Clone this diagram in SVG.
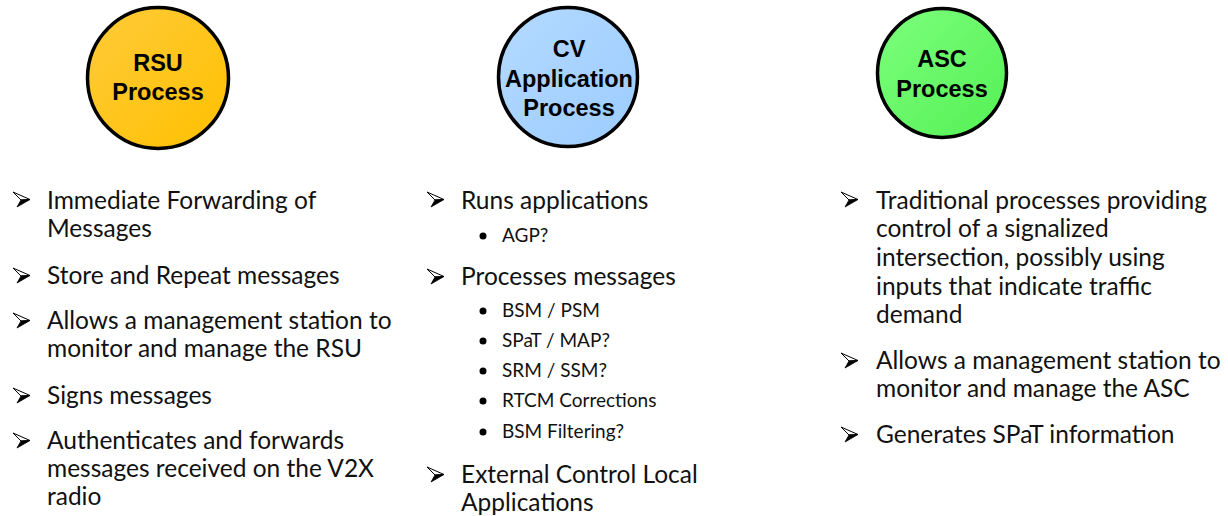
<svg xmlns="http://www.w3.org/2000/svg" xmlns:xlink="http://www.w3.org/1999/xlink" width="1228" height="516" viewBox="0 0 1228 516">
<style>
.circ{stroke:#000;stroke-width:3.5}
.ct{font-family:"Liberation Sans",Arial,sans-serif;font-weight:bold;font-size:23.5px;fill:#000;text-anchor:middle}
.b{font-family:Lato,"Open Sans",sans-serif;font-size:24.5px;fill:#111}
.s{font-family:Lato,"Open Sans",sans-serif;font-size:19px;fill:#111}
</style>
<defs>
<linearGradient id="gO" x1="0" y1="0" x2="1" y2="1">
<stop offset="0" stop-color="#FFCB3A"/><stop offset="1" stop-color="#FFC000"/>
</linearGradient>
<linearGradient id="gB" x1="0" y1="0" x2="1" y2="1">
<stop offset="0" stop-color="#B4DAFF"/><stop offset="1" stop-color="#9CCCFF"/>
</linearGradient>
<linearGradient id="gG" x1="0" y1="0" x2="1" y2="1">
<stop offset="0" stop-color="#7CFF7C"/><stop offset="1" stop-color="#55F055"/>
</linearGradient>
<g id="arr">
<polygon points="0,0 17,7.5 8,8" fill="#fff" stroke="#000" stroke-width="1" stroke-linejoin="miter"/>
<polygon points="8,8 17,7.5 4,15" fill="#000" stroke="#000" stroke-width="0.8"/>
</g>
<circle id="dot" r="3.5" fill="#000"/>
</defs>

<g id="rsu">
<circle class="circ" cx="158" cy="78" r="70.5" fill="url(#gO)"/>
<text class="ct" x="158" y="71">RSU</text>
<text class="ct" x="158" y="100">Process</text>
</g>

<g id="cv">
<circle class="circ" cx="568" cy="77" r="69.5" fill="url(#gB)"/>
<text class="ct" x="569" y="57">CV</text>
<text class="ct" x="569" y="87">Application</text>
<text class="ct" x="569" y="116">Process</text>
</g>

<g id="asc">
<circle class="circ" cx="942" cy="73" r="64.5" fill="url(#gG)"/>
<text class="ct" x="942" y="67">ASC</text>
<text class="ct" x="942" y="97">Process</text>
</g>

<g id="rsu-list">
<use xlink:href="#arr" x="13" y="192"/>
<text class="b" x="47" y="209">Immediate Forwarding of</text>
<text class="b" x="47" y="237">Messages</text>
<use xlink:href="#arr" x="13" y="268"/>
<text class="b" x="47" y="284">Store and Repeat messages</text>
<use xlink:href="#arr" x="13" y="313"/>
<text class="b" x="47" y="329">Allows a management station to</text>
<text class="b" x="47" y="357">monitor and manage the RSU</text>
<use xlink:href="#arr" x="13" y="388"/>
<text class="b" x="47" y="404">Signs messages</text>
<use xlink:href="#arr" x="13" y="433"/>
<text class="b" x="47" y="449">Authenticates and forwards</text>
<text class="b" x="47" y="477">messages received on the V2X</text>
<text class="b" x="47" y="505">radio</text>
</g>

<g id="cv-list">
<use xlink:href="#arr" x="427" y="192"/>
<text class="b" x="461" y="209">Runs applications</text>
<use xlink:href="#dot" x="483" y="236"/>
<text class="s" x="502" y="242">AGP?</text>
<use xlink:href="#arr" x="427" y="269"/>
<text class="b" x="461" y="285">Processes messages</text>
<use xlink:href="#dot" x="483" y="311"/>
<text class="s" x="502" y="317">BSM / PSM</text>
<use xlink:href="#dot" x="483" y="341"/>
<text class="s" x="502" y="347">SPaT / MAP?</text>
<use xlink:href="#dot" x="483" y="371"/>
<text class="s" x="502" y="377">SRM / SSM?</text>
<use xlink:href="#dot" x="483" y="401"/>
<text class="s" x="502" y="407">RTCM Corrections</text>
<use xlink:href="#dot" x="483" y="432"/>
<text class="s" x="502" y="438">BSM Filtering?</text>
<use xlink:href="#arr" x="427" y="467"/>
<text class="b" x="461" y="483">External Control Local</text>
<text class="b" x="461" y="511">Applications</text>
</g>

<g id="asc-list">
<use xlink:href="#arr" x="841" y="192"/>
<text class="b" x="876" y="209">Traditional processes providing</text>
<text class="b" x="876" y="237">control of a signalized</text>
<text class="b" x="876" y="266">intersection, possibly using</text>
<text class="b" x="876" y="295">inputs that indicate traffic</text>
<text class="b" x="876" y="323">demand</text>
<use xlink:href="#arr" x="841" y="353"/>
<text class="b" x="876" y="369">Allows a management station to</text>
<text class="b" x="876" y="397">monitor and manage the ASC</text>
<use xlink:href="#arr" x="841" y="427"/>
<text class="b" x="876" y="443">Generates SPaT information</text>
</g>
</svg>
